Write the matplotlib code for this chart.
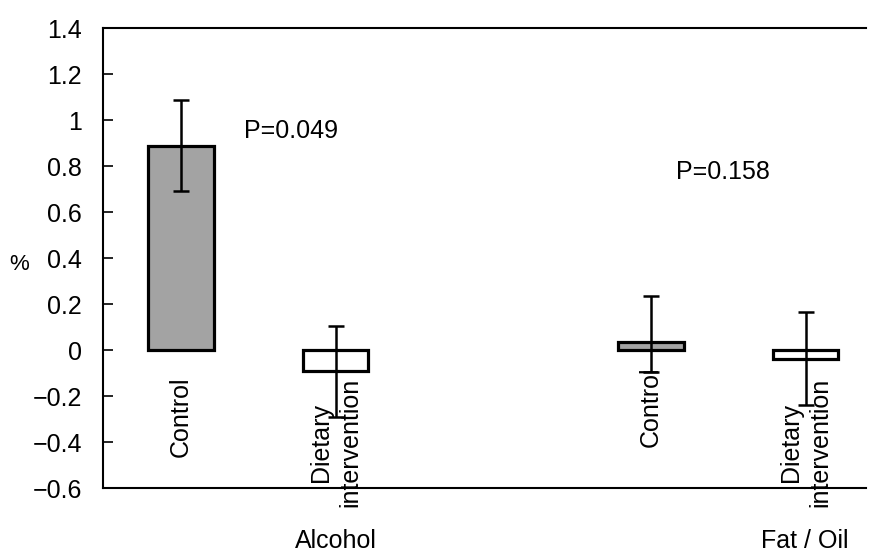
import numpy as np
import matplotlib
matplotlib.use("Agg")
import matplotlib.pyplot as plt

plt.rcParams['font.family'] = ['Liberation Sans', 'DejaVu Sans']

# values (% change)
groups = ['Alcohol', 'Fat / Oil']
bar_labels = ['Control', 'Dietary\nintervention', 'Control', 'Dietary\nintervention']
means = [0.89, -0.09, 0.035, -0.04]
err_up = [0.20, 0.195, 0.20, 0.205]
err_down = [0.20, 0.20, 0.13, 0.20]
p_values = ['P=0.049', 'P=0.158']

xpos = np.array([0.102, 0.305, 0.718, 0.921])
colors = ['#a3a3a3', 'white', '#a3a3a3', 'white']

fig = plt.figure(figsize=(8.72, 5.54), dpi=100)
ax = fig.add_axes([0.118, 0.119, 0.875, 0.83])

ax.bar(xpos, means, width=0.086, color=colors, edgecolor='black', linewidth=2.3, zorder=2)
ax.errorbar(xpos, means, yerr=[err_down, err_up], fmt='none', ecolor='black',
            elinewidth=1.8, capsize=5.5, capthick=1.8, zorder=3)

ax.set_xlim(0, 1)
ax.set_ylim(-0.6, 1.4)
ax.set_yticks(np.arange(-0.6, 1.41, 0.2))
ax.set_yticklabels(['\u22120.6', '\u22120.4', '\u22120.2', '0', '0.2', '0.4', '0.6', '0.8', '1', '1.2', '1.4'])
ax.set_xticks([])
ax.tick_params(axis='y', direction='in', length=7, width=1.2, labelsize=18, pad=15)

for s in ['left', 'top', 'bottom']:
    ax.spines[s].set_linewidth(1.5)
ax.spines['right'].set_visible(False)

# labels under each bar
label_y = [-0.29, -0.40, -0.245, -0.40]
for x, lab, y in zip(xpos, bar_labels, label_y):
    ax.text(x, y, lab, rotation=90, ha='center', va='center', fontsize=18,
            multialignment='center', linespacing=1.3, zorder=4)

# p values
ax.text(0.185, 0.955, p_values[0], fontsize=18, va='center', ha='left')
ax.text(0.751, 0.775, p_values[1], fontsize=18, va='center', ha='left')

# group names
fig.text(336 / 872, 1 - 541 / 554, groups[0], fontsize=18, ha='center', va='center')
fig.text(805 / 872, 1 - 541 / 554, groups[1], fontsize=18, ha='center', va='center')

fig.text(19 / 872, 1 - 265 / 554, '%', fontsize=16, ha='center', va='center')

fig.savefig('out.png', dpi=100)
